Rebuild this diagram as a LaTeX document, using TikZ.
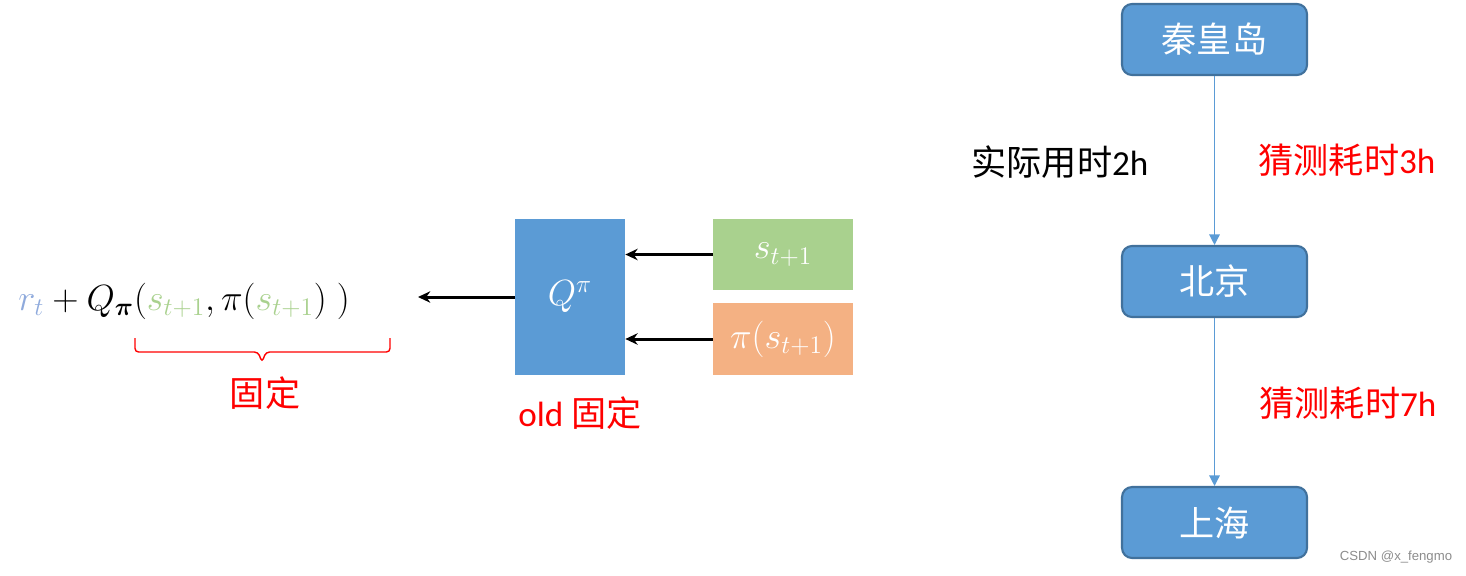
\documentclass[tikz,border=0pt]{standalone}
\usepackage{amsmath}
\usepackage{fontspec}
\setmainfont{Carlito}
\newfontfamily\cjk{Noto Sans CJK SC}
\newfontfamily\wmark{Liberation Sans}
\usetikzlibrary{arrows.meta}
\definecolor{qblue}{HTML}{5B9BD5}
\definecolor{qedge}{HTML}{41719C}
\definecolor{sgreen}{HTML}{A9D18E}
\definecolor{porange}{HTML}{F4B183}
\definecolor{rblue}{HTML}{8FAADC}

\tikzset{
  block/.style={fill=#1, text=white, inner sep=0pt, font=\fontsize{22}{26}\selectfont},
  station/.style={draw=qedge, line width=1.2pt, fill=qblue, rounded corners=0.2cm,
    minimum width=3.7cm, minimum height=1.42cm, text=white, font=\cjk\fontsize{20}{24}\selectfont},
  feed/.style={line width=1.7pt, -{Stealth[length=7pt,width=6.5pt]}},
  route/.style={qblue, line width=0.8pt, -{Triangle[length=6pt,width=6pt]}},
  note/.style={font=\fontsize{20}{24}\selectfont}
}

\begin{document}
\begin{tikzpicture}[x=0.02cm,y=-0.02cm]
  \useasboundingbox (0,0) rectangle (1466,575);

  %% target value
  \node [anchor=base west, inner sep=0pt, font=\fontsize{20.5}{24}\selectfont] (target) at (18,310)
    {$\textcolor{rblue}{r_t}+Q_{\boldsymbol{\pi}}(\textcolor{sgreen}{s_{t+1}},\pi(\textcolor{sgreen}{s_{t+1}})\;)$};
  \coordinate (bl) at (135,338);
  \coordinate (br) at (390,338);
  \draw [red, line width=0.8pt, rounded corners=2pt] (bl) -- ++(0,14) -- ++(123,0) -- ++(4,10)
    -- ++(4,-10) -- ++(124,0) -- (br);
  \node [note, text=red, font=\cjk\fontsize{20}{24}\selectfont] (fixed) at (265,393) {固定};

  %% old network
  \node [block=qblue, minimum width=2.2cm, minimum height=3.12cm] (qnet) at (570,297) {$Q^{\pi}$};
  \node [block=sgreen, minimum width=2.8cm, minimum height=1.42cm] (state) at (783,254.5) {$s_{t+1}$};
  \node [block=porange, minimum width=2.8cm, minimum height=1.44cm] (action) at (783,339) {$\pi(s_{t+1})$};
  \node [note, text=red] (old) at (580,413) {old {\cjk 固定}};
  \coordinate (qout) at (418,297);

  \draw [feed] (qnet.west |- qout) -- (qout);
  \draw [feed] (state.west) -- (state.west -| qnet.east);
  \draw [feed] (action.west) -- (action.west -| qnet.east);

  %% route
  \node [station] (qhd) at (1214.5,39.5) {秦皇岛};
  \node [station] (bj) at (1214.5,281.5) {北京};
  \node [station] (sh) at (1214.5,522.5) {上海};
  \draw [route] (qhd) -- (bj);
  \draw [route] (bj) -- (sh);

  \node [note] (real) at (1060,162) {{\cjk 实际用时}2h};
  \node [note, text=red] (guess1) at (1347,160) {{\cjk 猜测耗时}3h};
  \node [note, text=red] (guess2) at (1348,403) {{\cjk 猜测耗时}7h};

  \node [text=black!45, font=\wmark\fontsize{7.5}{9}\selectfont] (csdn) at (1396,557) {CSDN @x\_fengmo};
\end{tikzpicture}
\end{document}
